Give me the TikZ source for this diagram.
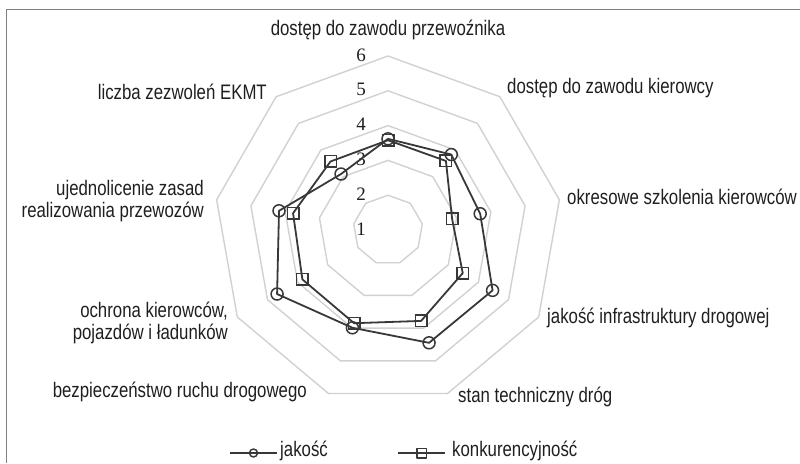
\documentclass[tikz,border=0pt]{standalone}
\usepackage{fontspec}
\setmainfont{Liberation Sans}[FakeStretch=0.8]
\newfontfamily\numfont{Liberation Serif}
\begin{document}
\begin{tikzpicture}[x=1pt,y=1pt]
\tikzstyle{ring}=[draw=black!18,line width=1.4pt]
\tikzstyle{series}=[draw=black!78,line width=1.8pt,line join=round]
\tikzstyle{circ}=[circle,draw=black!78,line width=1.5pt,minimum size=12pt,inner sep=0pt]
\tikzstyle{sq}=[rectangle,draw=black!78,line width=1.5pt,minimum size=11.5pt,inner sep=0pt]
\tikzstyle{axislabel}=[inner sep=0pt,text=black!88,font=\fontsize{21}{22}\selectfont]
\tikzstyle{num}=[inner sep=0pt,text=black!88,font=\numfont\fontsize{19}{20}\selectfont]
  \useasboundingbox (-388,-233) rectangle (412,230);
  % frame, only top and left edge visible
  \draw[black!50,line width=1pt] (412,220) -- (-381,220) -- (-381,-233);

  % grid
  \foreach \v [evaluate=\v as \r using (\v-1)*34.8] in {2,...,6}
    \draw[ring] (90:\r) \foreach \a in {50,10,...,-230} {-- (\a:\r)} -- cycle;
  \foreach \v in {1,...,6}
    \node[num,anchor=east] (n\v) at (-22,{(\v-1)*34.8+1}) {\v};

  % axis labels
  \node[axislabel] (przewoznik) at (0,200) {dostęp do zawodu przewoźnika};
  \node[axislabel,anchor=west] (kierowca) at (119,142) {dostęp do zawodu kierowcy};
  \node[axislabel,anchor=west] (szkolenia) at (179,33) {okresowe szkolenia kierowców};
  \node[axislabel,anchor=west] (infra) at (159,-88) {jakość infrastruktury drogowej};
  \node[axislabel,anchor=west] (stan) at (70,-167) {stan techniczny dróg};
  \node[axislabel,anchor=east] (bezp) at (-81,-162) {bezpieczeństwo ruchu drogowego};
  \node[axislabel,anchor=east,align=right] (ochrona) at (-160,-93) {ochrona kierowców,\\pojazdów i ładunków};
  \node[axislabel,anchor=east,align=right] (ujedn) at (-184,29) {ujednolicenie zasad\\realizowania przewozów};
  \node[axislabel,anchor=east] (ekmt) at (-121,138) {liczba zezwoleń EKMT};

  % data
  \foreach \v [count=\k from 0] in {3.62,3.83,3.69,4.47,4.45,3.99,4.68,4.18,3.10}
    \coordinate (j\k) at ({90-40*\k}:{(\v-1)*34.8});
  \foreach \v [count=\k from 0] in {3.58,3.59,2.87,3.48,3.78,3.85,3.84,3.77,3.57}
    \coordinate (k\k) at ({90-40*\k}:{(\v-1)*34.8});
  \draw[series] (j0) -- (j1) -- (j2) -- (j3) -- (j4) -- (j5) -- (j6) -- (j7) -- (j8) -- cycle;
  \draw[series] (k0) -- (k1) -- (k2) -- (k3) -- (k4) -- (k5) -- (k6) -- (k7) -- (k8) -- cycle;
  \foreach \k in {0,...,8} {
    \node[circ] (jm\k) at (j\k) {};
    \node[sq] (km\k) at (k\k) {};
  }

  % legend
  \coordinate (lja) at (-158,-223);
  \coordinate (ljb) at (-111,-223);
  \draw[series,line width=1.5pt] (lja) -- (ljb) node[circ,minimum size=8pt,midway] (ljm) {};
  \node[axislabel,anchor=west] (ljt) at (-108,-221) {jakość};
  \coordinate (lka) at (10,-223);
  \coordinate (lkb) at (57,-223);
  \draw[series,line width=1.5pt] (lka) -- (lkb) node[sq,minimum size=9.5pt,midway] (lkm) {};
  \node[axislabel,anchor=west] (lkt) at (64,-221) {konkurencyjność};
\end{tikzpicture}
\end{document}
